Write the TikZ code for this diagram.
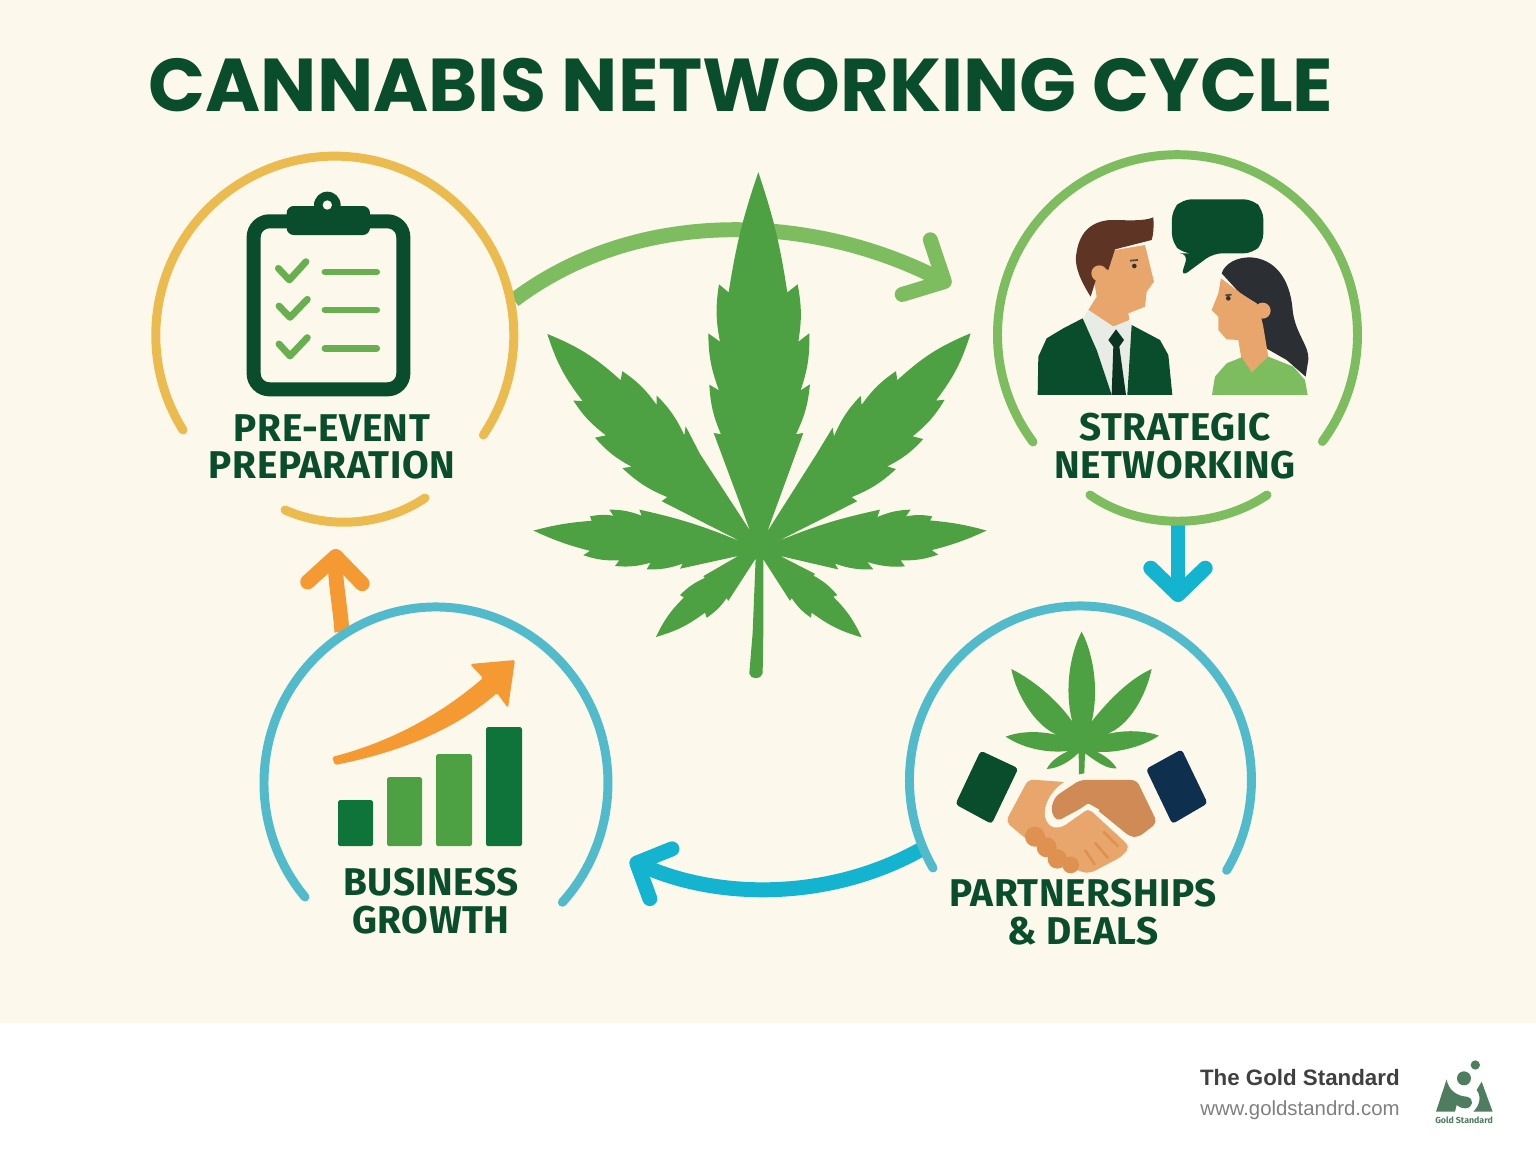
\documentclass[tikz,border=0pt]{standalone}
\usepackage{fontspec}
\newfontfamily\titlefont{Poppins}[BoldFont={* Bold}]
\newfontfamily\labelfont{Fira Sans}[LetterSpace=1.5]
\newfontfamily\logofont{Fira Sans}
\newfontfamily\footfont{Liberation Sans}
\usetikzlibrary{arrows.meta}
\definecolor{cream}{HTML}{FDF8EC}
\definecolor{darkgreen}{HTML}{0A4D2C}
\definecolor{leafgreen}{HTML}{4EA143}
\definecolor{lightgreen}{HTML}{7DBD60}
\definecolor{checkgreen}{HTML}{68B04F}
\definecolor{chartgreen}{HTML}{0F7439}
\definecolor{ringyellow}{HTML}{EBBB50}
\definecolor{ringteal}{HTML}{52BBCB}
\definecolor{brightblue}{HTML}{14B3D0}
\definecolor{chartorange}{HTML}{F59A33}
\definecolor{skin}{HTML}{E8A66C}
\definecolor{skindark}{HTML}{D08A55}
\definecolor{fingers}{HTML}{DE9150}
\definecolor{hairbrown}{HTML}{5E3524}
\definecolor{hairdark}{HTML}{2B2E33}
\definecolor{shirtwhite}{HTML}{E8EBE6}
\definecolor{tiedark}{HTML}{0A3322}
\definecolor{navy}{HTML}{0E2F4E}
\definecolor{logogreen}{HTML}{4F7D60}
\tikzset{
  ring/.style={line width=5.1pt, line cap=round},
  flowarrow/.style={line width=8.5pt, -{Straight Barb[length=15pt,width=31pt,round]}},
  steplabel/.style={font=\labelfont\bfseries\fontsize{22}{22}\selectfont, text=darkgreen, align=center, inner sep=0pt},
  tick/.style={draw=checkgreen, line width=3.9pt, line cap=round, line join=round},
  bar/.style={rounded corners=1pt},
  bl/.style={bend left=10},
  bs/.style={bend left=5}
}
\begin{document}
\begin{tikzpicture}[x=0.02cm,y=-0.02cm]
 \useasboundingbox (0,0) rectangle (1536,1154);
 \fill[cream] (0,0) rectangle (1536,1023);
 \fill[white] (0,1023) rectangle (1536,1154);

 \node[font=\titlefont\bfseries\fontsize{42.6}{42.6}\selectfont, text=darkgreen, inner sep=0pt] (title) at (741,85) {CANNABIS NETWORKING CYCLE};

 % connectors
 \coordinate (prepOut) at (514,300);
 \coordinate (netIn) at (951,285);
 \coordinate (netOut) at (1178,522);
 \coordinate (dealIn) at (1178,602);
 \coordinate (dealOut) at (920,850);
 \coordinate (growIn) at (630,860);
 \coordinate (growOut) at (342,632);
 \coordinate (prepIn) at (336,549);
 \draw[flowarrow, lightgreen, -{Straight Barb[length=18pt,width=35pt,round]}] (prepOut) .. controls (640,205) and (815,215) .. (netIn);
 \draw[flowarrow, brightblue] (netOut) -- (dealIn);
 \draw[flowarrow, brightblue] (dealOut) .. controls (830,900) and (720,900) .. (growIn);
 \draw[flowarrow, chartorange] (growOut) .. controls (340,605) and (335,580) .. (prepIn);

 % rings
 \draw[ring, ringyellow] (183,430) arc[start angle=148, end angle=393.9, radius=179];
 \draw[ring, ringyellow] (285,510) .. controls (330,530) and (385,525) .. (425,498);
 \draw[ring, lightgreen] (1033,442) arc[start angle=143.4, end angle=396.4, radius=180];
 \draw[ring, lightgreen] (1090,495) .. controls (1140,530) and (1215,530) .. (1267,495);
 \draw[ring, ringteal] (933,868) arc[start angle=149.6, end angle=391.3, x radius=171, y radius=174];
 \draw[ring, ringteal] (305,897) arc[start angle=139.6, end angle=402.7, x radius=172, y radius=176];

 % big leaf
 \begin{scope}[shift={(530,160)},xscale=0.3333,yscale=0.3378]
  \fill[leafgreen] (685,36) to[bs] (772,392) -- (803,368) to[bl] (805,538) -- (838,513) to[bl] (812,682) -- (840,664) to[bl] (798,812) -- (820,808) -- (712,1100)
   -- (860,870) -- (908,792) -- (912,818) to[bl] (992,698) -- (995,725) to[bl] (1098,625) -- (1102,652) to[bl] (1322,513)
   to[bl] (1218,712) -- (1244,710) to[bl] (1148,818) -- (1180,826) to[bl] (1072,907) -- (1098,915) to[bl] (965,998) -- (982,1010) -- (740,1130)
   to[bs] (1050,1035) -- (1042,1057) to[bl] (1142,1035) -- (1128,1055) to[bl] (1207,1055) -- (1200,1067) to[bs] (1370,1097)
   to[bs] (1205,1155) -- (1225,1168) to[bl] (1112,1185) -- (1125,1203) to[bl] (1012,1190) -- (1030,1212) to[bl] (915,1195) -- (925,1212) -- (750,1172)
   -- (855,1225) -- (850,1230) to[bl] (922,1288) -- (910,1293) to[bl] (995,1413) to[bl] (845,1340) -- (843,1355) to[bl] (785,1297) -- (780,1305) -- (700,1182)
   -- (700,1400) -- (698,1520) -- (690,1531) -- (678,1534) -- (665,1531) -- (658,1520) -- (668,1400) -- (677,1180)
   -- (595,1305) -- (590,1297) to[bl] (530,1355) -- (525,1340) to[bl] (378,1412) to[bl] (462,1295) -- (450,1288) to[bl] (525,1237) -- (520,1232) -- (625,1172)
   -- (450,1210) -- (458,1195) to[bl] (350,1212) -- (362,1192) to[bl] (255,1202) -- (268,1185) to[bl] (160,1170) -- (180,1157) to[bs] (10,1097)
   to[bs] (185,1068) -- (180,1055) to[bl] (250,1053) -- (238,1035) to[bl] (335,1053) -- (328,1035) to[bs] (638,1132)
   -- (395,1010) -- (412,998) to[bl] (277,912) -- (305,908) to[bl] (195,822) -- (228,815) to[bl] (130,712) -- (158,714) to[bl] (52,515)
   to[bl] (272,652) -- (277,625) to[bl] (380,725) -- (380,697) to[bl] (463,815) -- (467,788) -- (510,870) -- (660,1097)
   -- (551,808) -- (573,812) to[bl] (538,665) -- (567,682) to[bl] (535,513) -- (570,538) to[bl] (567,368) -- (596,392) to[bs] (685,36) -- cycle;
 \end{scope}

 % clipboard
 \begin{scope}[shift={(230,180)},scale=0.3333]
  \draw[darkgreen, line width=8pt, rounded corners=9pt] (71,124) rectangle (520,628);
  \fill[darkgreen] (292,75) circle (40);
  \fill[darkgreen, rounded corners=4pt] (170,78) rectangle (420,165);
  \fill[cream] (292,75) circle (14);
  \draw[tick] (145,265) -- (178,300) -- (228,245);
  \draw[tick] (147,378) -- (180,412) -- (232,358);
  \draw[tick] (147,492) -- (180,528) -- (232,473);
  \draw[tick] (285,276) -- (440,276);
  \draw[tick] (285,390) -- (440,390);
  \draw[tick] (285,505) -- (440,505);
 \end{scope}

 % two people talking
 \begin{scope}[shift={(1000,170)},scale=0.3333]
  \fill[darkgreen, rounded corners=5pt] (548,88) -- (758,88) -- (790,120) -- (790,218) -- (758,250) -- (640,250) -- (542,322) -- (565,250) -- (548,250) -- (516,218) -- (516,120) -- cycle;
  % man
  \fill[skin] (345,240) -- (435,225) -- (462,335) -- (440,365) -- (435,410) -- (385,430) -- (388,450) -- (340,470) -- (265,420) -- (290,380) -- (280,320) -- cycle;
  \fill[hairbrown] (460,142) .. controls (462,170) and (460,195) .. (455,210) -- (345,238) -- (325,300) -- (300,290) -- (272,380) .. controls (240,330) and (225,290) .. (228,260) .. controls (235,190) and (270,155) .. (330,150) .. controls (380,150) and (430,155) .. (460,142) -- cycle;
  \fill[skin] (298,310) circle (24);
  \fill[black!80] (403,288) circle (7);
  \draw[black!70, line width=1pt] (390,272) -- (414,270);
  \fill[shirtwhite] (250,445) -- (265,420) -- (340,470) -- (390,450) -- (395,470) -- (380,675) -- (335,675) -- cycle;
  \fill[darkgreen] (113,675) -- (115,560) -- (140,505) -- (190,475) -- (248,445) -- (290,540) -- (335,675) -- cycle;
  \fill[darkgreen] (395,465) -- (480,510) -- (505,555) -- (517,675) -- (382,675) -- cycle;
  \fill[tiedark] (348,478) -- (372,510) -- (358,530) -- (378,675) -- (335,675) -- (340,530) -- (325,510) -- cycle;
  % woman
  \fill[hairdark] (665,310) .. controls (675,280) and (710,262) .. (750,262) .. controls (820,265) and (870,320) .. (878,420) .. controls (885,490) and (930,530) .. (925,570) -- (917,620) -- (860,570) -- (790,530) -- (770,400) -- (720,370) -- cycle;
  \fill[skin] (663,325) -- (720,368) -- (775,405) -- (790,470) -- (805,560) -- (755,607) -- (725,570) -- (715,510) -- (680,508) -- (655,480) -- (655,440) -- (635,420) -- (655,370) -- cycle;
  \fill[skin] (788,422) circle (24);
  \fill[black!80] (685,385) circle (7);
  \draw[black!70, line width=1pt] (676,376) -- (695,374);
  \fill[lightgreen] (636,675) -- (645,620) -- (680,580) -- (725,562) -- (755,607) -- (805,560) -- (880,590) -- (915,630) -- (923,675) -- cycle;
 \end{scope}

 % handshake with small leaf
 \begin{scope}[shift={(940,620)},scale=0.3333]
  \fill[leafgreen] (425,35) .. controls (455,90) and (480,200) .. (455,305) .. controls (490,260) and (560,180) .. (635,147) .. controls (620,220) and (570,320) .. (497,343) .. controls (550,330) and (610,330) .. (657,347) .. controls (600,385) and (520,400) .. (470,395) .. controls (490,405) and (515,420) .. (530,445) .. controls (500,448) and (470,425) .. (435,400) -- (433,460) -- (417,463) -- (416,398) .. controls (390,425) and (355,445) .. (320,447) .. controls (335,420) and (360,405) .. (385,393) .. controls (320,400) and (250,385) .. (197,350) .. controls (250,330) and (310,335) .. (352,345) .. controls (290,320) and (230,230) .. (214,147) .. controls (290,185) and (360,250) .. (397,305) .. controls (370,200) and (395,90) .. (425,35) -- cycle;
  \fill[darkgreen, rounded corners=2pt] (122,392) -- (235,445) -- (155,612) -- (46,553) -- cycle;
  \fill[navy, rounded corners=2pt] (725,388) -- (803,550) -- (697,612) -- (618,447) -- cycle;
  \fill[skin, rounded corners=3pt] (265,478) -- (385,487) -- (340,530) -- (320,590) -- (350,625) -- (385,600) -- (445,565) -- (570,680) -- (545,710) -- (450,760) -- (420,755) -- (320,700) -- (250,650) -- (197,605) -- cycle;
  \fill[skindark, rounded corners=3pt] (420,480) -- (590,480) -- (652,608) -- (595,652) -- (570,650) -- (450,552) -- (395,580) -- (350,605) -- (332,570) -- (345,530) -- cycle;
  \draw[cream, line width=2.5pt, line join=round] (385,487) .. controls (340,510) and (315,560) .. (322,590) .. controls (330,620) and (355,625) .. (385,600) -- (445,558) -- (475,575);
  \fill[fingers] (285,650) circle (30);
  \fill[fingers] (320,682) circle (30);
  \fill[fingers] (352,717) circle (29);
  \fill[fingers] (392,735) circle (25);
  \draw[fingers, line width=1.5pt] (490,635) -- (535,680);
  \draw[fingers, line width=1.5pt] (465,668) -- (505,715);
  \draw[fingers, line width=1.5pt] (435,690) -- (465,735);
 \end{scope}

 % growth chart
 \fill[bar, chartgreen] (338,800) rectangle (373,846);
 \fill[bar, leafgreen] (387,777) rectangle (422,846);
 \fill[bar, leafgreen] (436,754) rectangle (472,846);
 \fill[bar, chartgreen] (486,727) rectangle (522,846);
 \fill[chartorange, rounded corners=1pt] (332,757) .. controls (390,742) and (440,715) .. (483,678) -- (470,664) -- (515,660) -- (508,708) -- (497,693) .. controls (460,725) and (410,750) .. (335,765) -- cycle;

 % labels
 \node[steplabel] (prep) at (332,447) {PRE-EVENT\\[-0.5pt]PREPARATION};
 \node[steplabel] (net) at (1175,446) {STRATEGIC\\[-0.5pt]NETWORKING};
 \node[steplabel] (grow) at (431,901) {BUSINESS\\[-0.5pt]GROWTH};
 \node[steplabel] (deal) at (1083,912) {PARTNERSHIPS\\[-0.5pt]\&~DEALS};

 % footer
 \node[font=\footfont\bfseries\fontsize{12.7}{13}\selectfont, text=black!75, anchor=east, inner sep=0pt] (brand) at (1400,1078) {The Gold Standard};
 \node[font=\footfont\fontsize{11.6}{12}\selectfont, text=black!50, anchor=east, inner sep=0pt] (site) at (1400,1110) {www.goldstandrd.com};
 \begin{scope}[shift={(1180,1040)},scale=0.3333]
  \fill[logogreen] (886,75) circle (14);
  \fill[logogreen] (852,115) circle (21);
  \fill[logogreen] (800,118) .. controls (805,150) and (830,168) .. (860,170) .. controls (885,175) and (880,205) .. (855,205) .. controls (840,205) and (832,195) .. (830,195) -- (825,215) -- (768,215) -- cycle;
  \fill[logogreen] (905,125) -- (938,215) -- (880,215) .. controls (900,195) and (905,170) .. (890,150) -- cycle;
 \end{scope}
 \node[font=\logofont\bfseries\fontsize{5}{5}\selectfont, text=logogreen, inner sep=0pt] (logotext) at (1464,1120) {Gold Standard};
\end{tikzpicture}
\end{document}
